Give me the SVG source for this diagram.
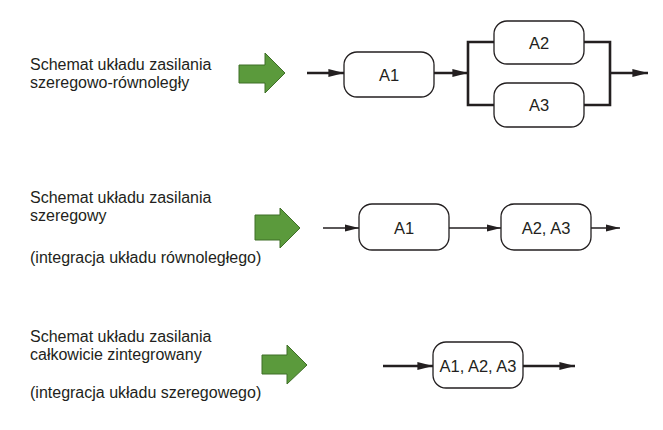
<svg xmlns="http://www.w3.org/2000/svg" width="663" height="430" viewBox="0 0 663 430">
<defs>
<style>
.lbl{font-family:"Liberation Sans",Arial,sans-serif;font-size:16px;fill:#231f20}
.nt{font-family:"Liberation Sans",Arial,sans-serif;font-size:16.5px;fill:#231f20;text-anchor:middle;dominant-baseline:central}
.box{fill:#fff;stroke:#231f20;stroke-width:1.3}
.thick{fill:none;stroke:#231f20;stroke-width:2.6}
.thin{fill:none;stroke:#231f20;stroke-width:1.5}
.big{fill:#5b9a3c;stroke:#3f6f27;stroke-width:1}
</style>
<marker id="ah" viewBox="0 0 10 10" refX="10" refY="5" markerWidth="6" markerHeight="6" markerUnits="strokeWidth" orient="auto"><path d="M0,2.4 L10,5 L0,7.6 z" fill="#231f20"/></marker>
<marker id="ah2" viewBox="0 0 10 10" refX="10" refY="5" markerWidth="9.5" markerHeight="9.5" markerUnits="strokeWidth" orient="auto"><path d="M0,2.5 L10,5 L0,7.5 z" fill="#231f20"/></marker>
</defs>

<g id="labels">
<text class="lbl" x="30" y="70">Schemat układu zasilania</text>
<text class="lbl" x="30" y="88">szeregowo-równoległy</text>
<text class="lbl" x="30" y="203">Schemat układu zasilania</text>
<text class="lbl" x="30" y="221">szeregowy</text>
<text class="lbl" x="30" y="263">(integracja układu równoległego)</text>
<text class="lbl" x="30" y="342">Schemat układu zasilania</text>
<text class="lbl" x="30" y="360">całkowicie zintegrowany</text>
<text class="lbl" x="30" y="398">(integracja układu szeregowego)</text>
</g>

<g id="bigarrows">
<path class="big" d="M239,65 H265 V53 L285,73 L265,93 V83 H239 z"/>
<path class="big" d="M255,215 H280 V208 L300,228 L280,248 V240 H255 z"/>
<path class="big" d="M262,355 H287 V345 L307,365 L287,384 V374 H262 z"/>
</g>

<g id="connectors">
<line class="thick" x1="307" y1="73" x2="344" y2="73" marker-end="url(#ah)"/>
<line class="thick" x1="434" y1="73" x2="468" y2="73" marker-end="url(#ah)"/>
<path class="thick" d="M494,42 H468 V105 H494"/>
<path class="thick" d="M584,42 H610 V105 H584"/>
<line class="thick" x1="610" y1="73" x2="648" y2="73" marker-end="url(#ah)"/>
<line class="thin" x1="323" y1="228" x2="359" y2="228" marker-end="url(#ah2)"/>
<line class="thin" x1="449" y1="228" x2="501" y2="228" marker-end="url(#ah2)"/>
<line class="thin" x1="591" y1="228" x2="620" y2="228" marker-end="url(#ah2)"/>
<line class="thick" x1="383" y1="366" x2="433" y2="366" marker-end="url(#ah)"/>
<line class="thick" x1="523" y1="366" x2="575" y2="366" marker-end="url(#ah)"/>
</g>

<g id="nodeA1a"><rect class="box" x="344" y="52" width="90" height="45" rx="13"/><text class="nt" x="389" y="75">A1</text></g>
<g id="nodeA2a"><rect class="box" x="494" y="21" width="90" height="43" rx="13"/><text class="nt" x="539" y="43">A2</text></g>
<g id="nodeA3a"><rect class="box" x="494" y="83" width="90" height="44" rx="13"/><text class="nt" x="539" y="105">A3</text></g>
<g id="nodeA1b"><rect class="box" x="359" y="204" width="90" height="46" rx="13"/><text class="nt" x="404" y="228">A1</text></g>
<g id="nodeA23b"><rect class="box" x="501" y="204" width="90" height="46" rx="13"/><text class="nt" x="546" y="228">A2, A3</text></g>
<g id="nodeA123c"><rect class="box" x="433" y="342" width="90" height="46" rx="13"/><text class="nt" x="478" y="366">A1, A2, A3</text></g>
</svg>
